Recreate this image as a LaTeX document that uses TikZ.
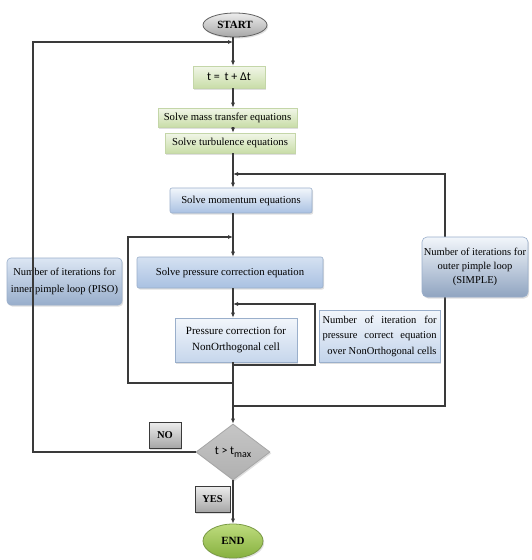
\documentclass[tikz,border=0pt]{standalone}
\usepackage{fontspec}
\setmainfont{Liberation Serif}
\newfontfamily\calib{Carlito}
\usetikzlibrary{shapes.geometric,arrows.meta,shadows}
\definecolor{lineC}{HTML}{3A3A3A}
\definecolor{grTop}{HTML}{F1F6E8}
\definecolor{grBot}{HTML}{C9DDA8}
\definecolor{grEdge}{HTML}{C4D6A8}
\definecolor{blTop}{HTML}{F2F6FB}
\definecolor{blBot}{HTML}{A9C1E2}
\definecolor{blEdge}{HTML}{9AAFCB}
\definecolor{gyTop}{HTML}{EDEDED}
\definecolor{gyBot}{HTML}{A6A6A6}
\definecolor{enTop}{HTML}{BEDC7E}
\definecolor{enBot}{HTML}{86B03E}
\definecolor{enEdge}{HTML}{7A9A45}
\begin{document}
\begin{tikzpicture}[x=1pt,y=-1pt,
  line/.style={draw=lineC, line width=1.1pt},
  arr/.style={line, -{Latex[length=5pt,width=4.2pt]}},
  shad/.style={drop shadow={opacity=0.25, shadow xshift=1.2pt, shadow yshift=-1.5pt}},
  greenbox/.style={shad, draw=grEdge, line width=0.6pt, top color=grTop, bottom color=grBot, inner sep=0pt, align=center},
  bluebox/.style={shad, draw=blEdge, line width=0.6pt, top color=blTop, bottom color=blBot, inner sep=0pt, align=center},
  graybox/.style={shad, draw=lineC, line width=0.8pt, top color=gyTop, bottom color=gyBot, inner sep=0pt, align=center},
  txt/.style={font=\fontsize{10.7}{12}\selectfont},
]
\useasboundingbox (0,0) rectangle (532,560);
\fill[white] (0,0) rectangle (532,560);

% terminals
\node[shad, ellipse, draw=lineC!80, line width=0.8pt, top color=gyTop, bottom color=gyBot,
      minimum width=64pt, minimum height=24pt, inner sep=0pt,
      font=\bfseries\fontsize{11}{12}\selectfont] (start) at (235,25) {START};
\node[shad, ellipse, draw=enEdge, line width=0.8pt, top color=enTop, bottom color=enBot,
      minimum width=60pt, minimum height=34pt, inner sep=0pt,
      font=\bfseries\fontsize{11}{12}\selectfont] (endn) at (233,541) {END};

% process boxes
\node[greenbox, minimum width=72pt, minimum height=22pt] (tbox) at (229,77)
  {\calib\fontsize{12}{14}\selectfont t =\, t + Δt};
\node[greenbox, txt, minimum width=139pt, minimum height=19pt] (mass) at (227.5,117.5)
  {Solve mass transfer equations};
\node[greenbox, txt, minimum width=130pt, minimum height=20pt] (turb) at (230,143)
  {Solve turbulence equations};
\node[bluebox, txt, rounded corners=2pt, minimum width=142pt, minimum height=25pt] (mom) at (241,200.5)
  {Solve momentum equations};
\node[bluebox, txt, rounded corners=2pt, minimum width=186pt, minimum height=31pt, top color=blTop!60!blBot] (pres) at (230,272.5)
  {Solve pressure correction equation};
\node[bluebox, minimum width=122pt, minimum height=44pt, top color=blTop, bottom color=blTop!40!blBot,
      font=\fontsize{11}{16}\selectfont] (nono) at (236,340)
  {Pressure correction for\\NonOrthogonal cell};
\node[bluebox, minimum width=121pt, minimum height=52pt, top color=blTop, bottom color=blTop!35!blBot,
      font=\fontsize{10.5}{15.5}\selectfont] (nonoit) at (379.5,336)
  {\makebox[114pt][s]{Number of iteration for}\\
   \makebox[114pt][s]{pressure correct equation}\\
   \makebox[114pt][r]{over NonOrthogonal cells}};

% decision
\node[shad, diamond, draw=gray!70, line width=0.8pt, top color=gray!45, bottom color=gray!62,
      minimum width=74pt, minimum height=56pt, inner sep=0pt] (dia) at (233,452)
  {\calib\fontsize{12}{14}\selectfont t > t\raisebox{-3pt}{\fontsize{10}{10}\selectfont max}};

% PISO note (outer line passes over it)
\node[bluebox, rounded corners=4pt, minimum width=115pt, minimum height=47pt,
      top color=blTop!70!blBot, bottom color=blBot!90!black,
      font=\fontsize{10.5}{17}\selectfont] (piso) at (64.5,281.5)
  {Number of iterations for\\inner pimple loop (PISO)};

% main flow
\coordinate (ax) at (233,0);
\draw[arr] (start.south -| ax) -- (tbox.north -| ax);
\draw[arr] (tbox.south -| ax) -- (mass.north -| ax);
\draw[arr] (mass.south -| ax) -- (turb.north -| ax);
\draw[arr] (turb.south -| ax) -- (mom.north -| ax);
\draw[arr] (mom.south -| ax) -- (pres.north -| ax);
\draw[arr] (pres.south -| ax) -- (nono.north -| ax);
\draw[arr] (nono.south -| ax) -- (dia.north);
\draw[arr] (dia.south) -- (endn.north);

% loops
\coordinate (oTop) at (33,42);
\coordinate (oIn) at (233,42);
\draw[arr] (dia.west) -| (oTop) -- (oIn);

\coordinate (sOut) at (233,406);
\coordinate (sCorner) at (445,174);
\coordinate (sIn) at (233,174);
\draw[arr] (sOut) -| (sCorner) -- (sIn);

\coordinate (pOut) at (233,383);
\coordinate (pCorner) at (128,237);
\coordinate (pIn) at (233,237);
\draw[arr] (pOut) -| (pCorner) -- (pIn);

\coordinate (nOut) at (233,365);
\coordinate (nCorner) at (315,304);
\coordinate (nIn) at (233,304);
\draw[arr] (nOut) -| (nCorner) -- (nIn);

% SIMPLE note (over the line)
\node[bluebox, rounded corners=5pt, minimum width=106pt, minimum height=60pt,
      top color=blTop, bottom color=blBot!85!black,
      font=\fontsize{10.5}{14}\selectfont] (simple) at (475,267)
  {Number of iterations for\\outer pimple loop\\(SIMPLE)};

% labels
\node[graybox, minimum width=32pt, minimum height=26pt, font=\bfseries\fontsize{10.5}{12}\selectfont] (no) at (165,435) {NO};
\node[graybox, minimum width=35pt, minimum height=26pt, font=\bfseries\fontsize{10.5}{12}\selectfont] (yes) at (212.5,499) {YES};
\end{tikzpicture}
\end{document}
